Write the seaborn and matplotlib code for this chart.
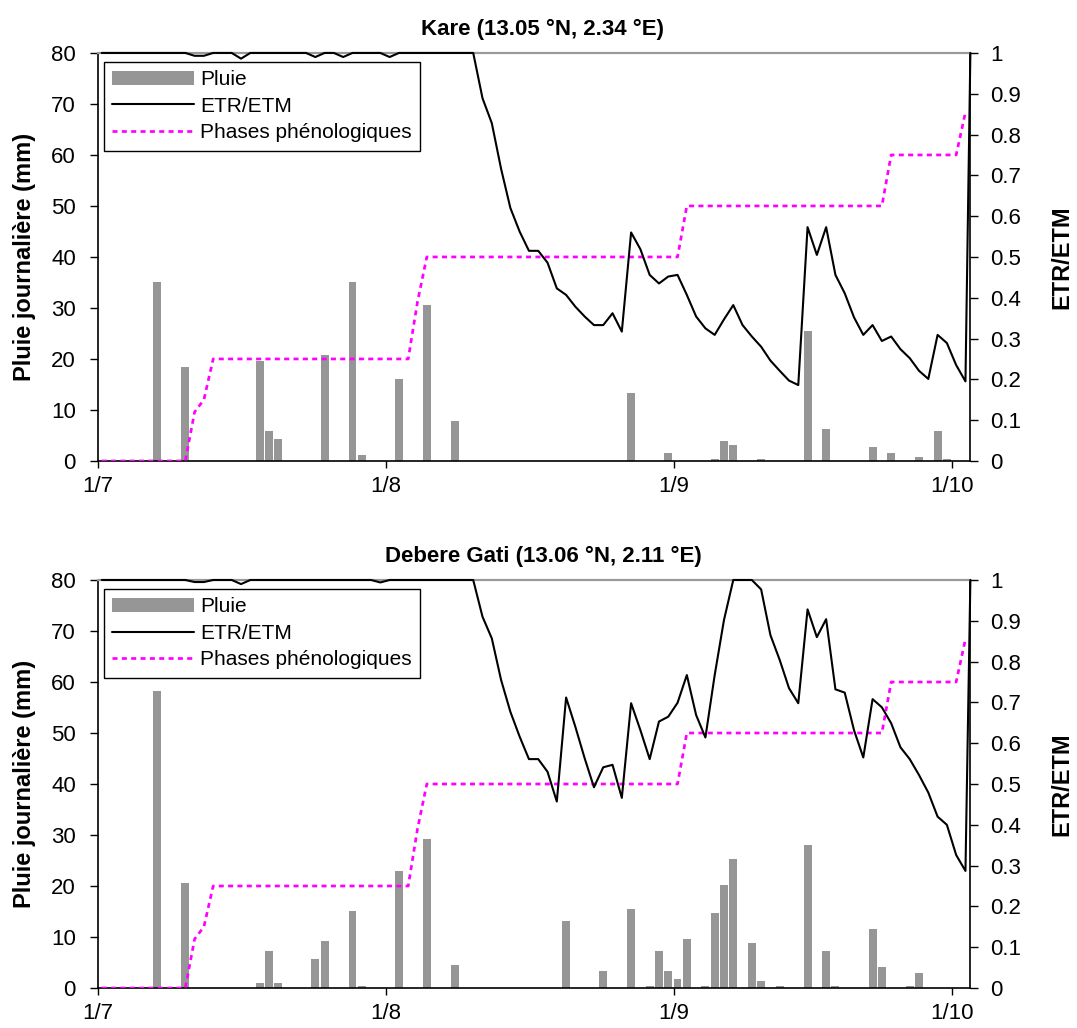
import numpy as np
import matplotlib
matplotlib.use("Agg")
import matplotlib.pyplot as plt
import seaborn as sns

# day index: 0 = 1 July
tick_days = [0, 31, 62, 92]
tick_labels = ["1/7", "1/8", "1/9", "1/10"]

# Kare
kare_rain_days = [6, 9, 17, 18, 19, 24, 27, 28, 32, 35, 38,
                  57, 61, 66, 67, 68, 71, 76, 78, 83, 85, 88, 90, 91]
kare_rain_mm = [35, 18.4, 19.6, 5.9, 4.3, 20.8, 35, 1.2, 16.1, 30.6, 7.8,
                13.4, 1.5, 0.4, 3.9, 3.1, 0.4, 25.5, 6.3, 2.7, 1.6, 0.8, 5.9, 0.4]
kare_etr = [1, 1, 1, 1, 1, 1, 1, 1, 1, 1,
            0.993, 0.993, 1, 1, 1, 0.986, 1, 1, 1, 1,
            1, 1, 1, 0.99, 1, 1, 0.99, 1, 1, 1,
            1, 0.99, 1, 1, 1, 1, 1, 1, 1, 1,
            1, 0.889, 0.828, 0.716, 0.62, 0.562, 0.515, 0.515, 0.486, 0.423,
            0.407, 0.378, 0.354, 0.333, 0.333, 0.362, 0.317, 0.560, 0.519, 0.456,
            0.435, 0.452, 0.456, 0.407, 0.354, 0.325, 0.309, 0.347, 0.382, 0.333,
            0.305, 0.280, 0.246, 0.221, 0.197, 0.186, 0.573, 0.505, 0.573, 0.456,
            0.411, 0.352, 0.309, 0.333, 0.294, 0.305, 0.274, 0.252, 0.221, 0.201,
            0.309, 0.289, 0.235, 0.195, 1.0]

# Debere Gati
gati_rain_days = [6, 9, 17, 18, 19, 23, 24, 27, 28, 32, 35, 38,
                  50, 54, 57, 59, 60, 61, 62, 63, 65, 66, 67, 68, 70, 71, 73,
                  76, 78, 79, 83, 84, 87, 88]
gati_rain_mm = [58.2, 20.6, 1.0, 7.3, 1.0, 5.7, 9.2, 15.1, 0.3, 22.9, 29.2, 4.5,
                13.1, 3.3, 15.5, 0.3, 7.3, 3.3, 1.8, 9.6, 0.4, 14.7, 20.2, 25.3, 8.8, 1.4, 0.4,
                28.0, 7.3, 0.4, 11.6, 4.1, 0.4, 2.9]
gati_etr = [1, 1, 1, 1, 1, 1, 1, 1, 1, 1,
            0.995, 0.995, 1, 1, 1, 0.99, 1, 1, 1, 1,
            1, 1, 1, 1, 1, 1, 1, 1, 1, 1,
            0.994, 1, 1, 1, 1, 1, 1, 1, 1, 1,
            1, 0.91, 0.857, 0.755, 0.677, 0.616, 0.561, 0.561, 0.530, 0.457,
            0.712, 0.640, 0.563, 0.492, 0.541, 0.547, 0.466, 0.698, 0.632, 0.561,
            0.653, 0.665, 0.699, 0.767, 0.669, 0.614, 0.767, 0.902, 1.0, 1.0,
            1.0, 0.977, 0.865, 0.804, 0.735, 0.698, 0.928, 0.860, 0.904, 0.732,
            0.724, 0.632, 0.565, 0.708, 0.688, 0.649, 0.590, 0.561, 0.522, 0.479,
            0.420, 0.400, 0.326, 0.287, 1.0]

# phenological phases (same for both sites), knots of the daily series
phase_days = [0, 9, 10, 11, 12, 33, 34, 35, 62, 63, 84, 85, 92, 93]
phase_vals = [0, 0, 0.12, 0.15, 0.25, 0.25, 0.39, 0.5, 0.5, 0.625, 0.625, 0.75, 0.75, 0.855]

stations = [
    ("Kare (13.05 °N, 2.34 °E)", kare_rain_days, kare_rain_mm, kare_etr),
    ("Debere Gati (13.06 °N, 2.11 °E)", gati_rain_days, gati_rain_mm, gati_etr),
]

OFFSET = 0.4
XMAX = 93.93

sns.set_theme(style="white")
plt.rcParams["font.family"] = ["Liberation Sans", "DejaVu Sans"]
plt.rcParams["text.color"] = "black"
plt.rcParams["axes.labelcolor"] = "black"

fig = plt.figure(figsize=(10.77, 10.28), dpi=100)
boxes = [[0.091, 0.5516, 0.810, 0.3969], [0.091, 0.0389, 0.810, 0.3969]]

for box, (title, rdays, rmm, etr) in zip(boxes, stations):
    ax = fig.add_axes(box)
    sns.barplot(x=np.array(rdays) + OFFSET, y=rmm, native_scale=True, width=0.85,
                color="#969696", saturation=1, errorbar=None, linewidth=0, ax=ax)
    ax.set_xlim(0, XMAX)
    ax.set_ylim(0, 80)
    ax.set_yticks(range(0, 81, 10))
    ax.set_xticks(tick_days)
    ax.set_xticklabels(tick_labels)
    ax.tick_params(axis="y", left=True, direction="out", length=6, width=1,
                   pad=10, labelsize=16, colors="black")
    ax.tick_params(axis="x", bottom=True, direction="out", length=5, width=1,
                   pad=6, labelsize=16, colors="black")
    ax.set_xlabel("")
    ax.set_ylabel("Pluie journalière (mm)", fontsize=17, fontweight="bold")
    ax.yaxis.set_label_coords(-0.071, 0.5)
    ax.set_title(title, fontsize=16, fontweight="bold", pad=13, x=0.51, color="black")
    for s in ["left", "bottom"]:
        ax.spines[s].set_color("black")
        ax.spines[s].set_linewidth(1.2)
    ax.spines["top"].set_color("#999999")
    ax.spines["top"].set_linewidth(1.5)
    ax.spines["right"].set_visible(False)

    ax2 = ax.twinx()
    x_etr = np.minimum(np.arange(len(etr)) + OFFSET, XMAX)
    sns.lineplot(x=x_etr, y=etr, ax=ax2, color="black", linewidth=1.5,
                 zorder=4, clip_on=False)
    sns.lineplot(x=np.array(phase_days) + OFFSET, y=phase_vals, ax=ax2,
                 color="#ff00ff", linewidth=1.95, linestyle=(0, (1.85, 1.6)), zorder=3)
    ax2.set_xlim(0, XMAX)
    ax2.set_ylim(0, 1)
    ax2.set_yticks(np.arange(0, 1.01, 0.1))
    ax2.set_yticklabels(["0", "0.1", "0.2", "0.3", "0.4", "0.5",
                         "0.6", "0.7", "0.8", "0.9", "1"])
    ax2.tick_params(axis="y", right=True, direction="out", length=6, width=1,
                    pad=8, labelsize=16, colors="black")
    ax2.set_ylabel("ETR/ETM", fontsize=17, fontweight="bold")
    ax2.yaxis.set_label_coords(1.092, 0.5)
    ax2.spines["right"].set_color("black")
    ax2.spines["right"].set_linewidth(1.2)
    ax2.spines["top"].set_color("#999999")
    ax2.spines["top"].set_linewidth(1.5)
    ax2.spines["left"].set_visible(False)
    ax2.spines["bottom"].set_visible(False)

    handles = [ax.containers[0], ax2.lines[0], ax2.lines[1]]
    leg = ax2.legend(handles, ["Pluie", "ETR/ETM", "Phases phénologiques"],
                     loc="upper left", bbox_to_anchor=(0.007, 0.978),
                     borderaxespad=0, fontsize=15, handlelength=3.9,
                     handletextpad=0.3, labelspacing=0.36, borderpad=0.4,
                     fancybox=False, framealpha=1, edgecolor="black")
    leg.get_frame().set_linewidth(1)

fig.savefig("out.png", dpi=100)
